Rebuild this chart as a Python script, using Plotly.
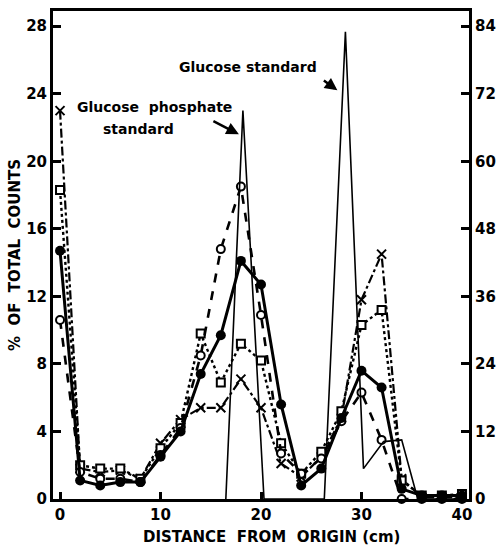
import plotly.graph_objects as go

# ---- data ----
x_pts = [0, 2, 4, 6, 8, 10, 12, 14, 16, 18, 20, 22, 24, 26, 28, 30, 32, 34, 36, 38, 40]
cross = [23.0, 1.8, 1.6, 1.7, 1.2, 3.3, 4.7, 5.4, 5.4, 7.1, 5.4, 2.1, 1.3, 2.5, 4.8, 11.8, 14.5, 1.2, 0.1, 0.1, 0.1]
squares = [18.3, 2.0, 1.8, 1.8, 1.2, 3.0, 4.5, 9.8, 6.9, 9.2, 8.2, 3.3, 1.5, 2.8, 5.2, 10.3, 11.2, 1.1, 0.2, 0.2, 0.3]
filled = [14.7, 1.1, 0.8, 1.0, 1.0, 2.5, 4.0, 7.4, 9.7, 14.1, 12.7, 5.6, 0.8, 1.8, 4.8, 7.6, 6.6, 0.6, 0.2, 0.2, 0.2]
open_c = [10.6, 1.6, 1.2, 1.2, 1.0, 2.6, 4.2, 8.5, 14.8, 18.5, 10.9, 2.7, 1.5, 2.4, 4.6, 6.3, 3.5, 0.0, 0.0, 0.0, 0.0]

# standards (right-hand scale, 0-84)
std_x = [16.5, 18.2, 20.3, 26.3, 28.4, 30.2, 32.2, 34.0, 35.6, 40.0]
std_y = [0, 69, 0, 0, 83, 5.4, 10.2, 10.5, 0, 0]

x_ticks = [0, 10, 20, 30, 40]
y_ticks = [0, 4, 8, 12, 16, 20, 24, 28]
y2_ticks = [0, 12, 24, 36, 48, 60, 72, 84]

FONT = "DejaVu Sans"
fig = go.Figure()

fig.add_trace(go.Scatter(x=std_x, y=std_y, yaxis="y2", mode="lines", cliponaxis=False,
                         line=dict(color="black", width=1.6), showlegend=False))
fig.add_trace(go.Scatter(x=x_pts, y=cross, mode="lines+markers", cliponaxis=False,
                         line=dict(color="black", width=2.2, dash="dashdot"),
                         marker=dict(symbol="x-thin", size=9, line=dict(color="black", width=2)),
                         showlegend=False))
fig.add_trace(go.Scatter(x=x_pts, y=squares, mode="lines+markers", cliponaxis=False,
                         line=dict(color="black", width=2.4, dash="dot"),
                         marker=dict(symbol="square", size=8, color="white", line=dict(color="black", width=2)),
                         showlegend=False))
fig.add_trace(go.Scatter(x=x_pts, y=open_c, mode="lines+markers", cliponaxis=False,
                         line=dict(color="black", width=2.6, dash="dash"),
                         marker=dict(symbol="circle", size=8, color="white", line=dict(color="black", width=2)),
                         showlegend=False))
fig.add_trace(go.Scatter(x=x_pts, y=filled, mode="lines+markers", cliponaxis=False,
                         line=dict(color="black", width=3),
                         marker=dict(symbol="circle", size=10, color="black"),
                         showlegend=False))

tickfont = dict(family=FONT, size=15, color="black")
fig.update_layout(
    width=504, height=549,
    margin=dict(l=53, r=29, t=8, b=50),
    paper_bgcolor="white", plot_bgcolor="white",
    font=dict(family=FONT, color="black"),
    xaxis=dict(range=[-0.7, 40.7], tickvals=x_ticks, ticktext=[f"<b>{v}</b>" for v in x_ticks],
               ticks="inside", ticklen=7, tickwidth=2.5, tickcolor="black",
               showline=True, linecolor="black", linewidth=3, mirror=True,
               showgrid=False, zeroline=False, tickfont=tickfont),
    yaxis=dict(range=[0, 28.9], tickvals=y_ticks, ticktext=[f"<b>{v}</b>" for v in y_ticks],
               ticks="inside", ticklen=8, tickwidth=2.5, tickcolor="black",
               showline=True, linecolor="black", linewidth=3,
               showgrid=False, zeroline=False, tickfont=tickfont,
               title=dict(text="<b>%  OF  TOTAL  COUNTS</b>", font=dict(family=FONT, size=15), standoff=2)),
    yaxis2=dict(range=[0, 86.7], tickvals=y2_ticks, ticktext=[f"<b>{v}</b>" for v in y2_ticks],
                overlaying="y", side="right",
                ticks="inside", ticklen=8, tickwidth=2.5, tickcolor="black",
                showline=True, linecolor="black", linewidth=3,
                showgrid=False, zeroline=False, tickfont=tickfont),
)

# x-axis title (slightly right of centre, as in the original)
fig.add_annotation(x=0.525, y=-0.055, xref="paper", yref="paper", yanchor="top", showarrow=False,
                   text="<b>DISTANCE  FROM  ORIGIN (cm)</b>", font=dict(family=FONT, size=15))

# annotations
fig.add_annotation(x=27.6, y=24.2, xref="x", yref="y", ax=-15, ay=-11,
                   showarrow=True, arrowhead=2, arrowsize=1, arrowwidth=2.5, arrowcolor="black", text="")
fig.add_annotation(x=18.7, y=25.6, xref="x", yref="y", showarrow=False,
                   text="<b>Glucose standard</b>", font=dict(family=FONT, size=14), xanchor="center")
fig.add_annotation(x=17.8, y=21.6, xref="x", yref="y", ax=-27, ay=-14,
                   showarrow=True, arrowhead=2, arrowsize=1, arrowwidth=2.5, arrowcolor="black", text="")
fig.add_annotation(x=1.5, y=23.2, xref="x", yref="y", showarrow=False, xanchor="left",
                   text="<b>Glucose  phosphate</b>", font=dict(family=FONT, size=14))
fig.add_annotation(x=4.1, y=21.9, xref="x", yref="y", showarrow=False, xanchor="left",
                   text="<b>standard</b>", font=dict(family=FONT, size=14))

fig.write_html("out.html")
